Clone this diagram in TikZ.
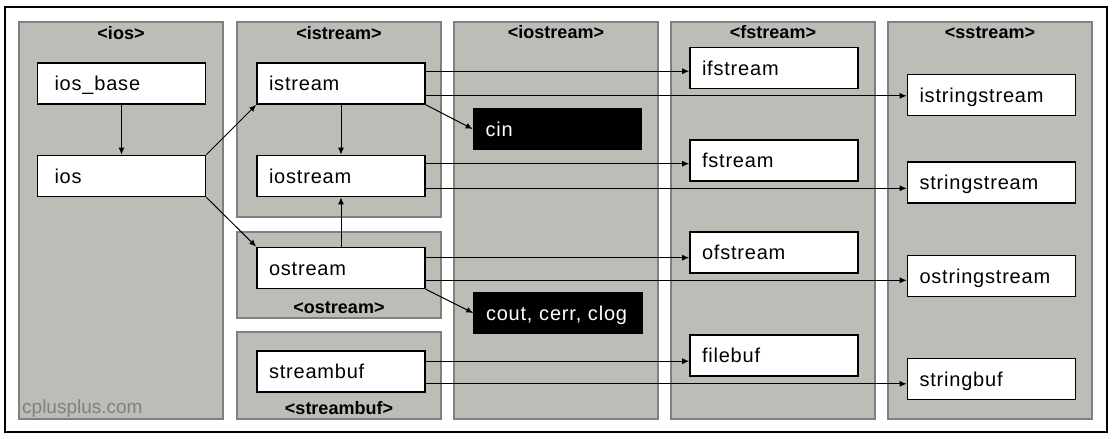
\documentclass[tikz,border=0pt]{standalone}
\usepackage{fontspec}
\setmainfont{Liberation Sans}
\newfontfamily\boxfont[LetterSpace=4]{Liberation Sans}
\usetikzlibrary{arrows.meta}
\definecolor{panelgray}{RGB}{187,189,183}
\definecolor{panelline}{RGB}{128,128,128}
\tikzset{
	panel/.style={fill=panelgray, draw=panelline, line width=2.5pt},
	hdr/.style={anchor=base, inner sep=0pt, font=\fontsize{18}{20}\selectfont\bfseries},
	cls/.style={draw, fill=white, line width=1.6pt, minimum height=41pt, text width=144pt,
		inner xsep=12pt, inner ysep=0pt, align=left, text height=15pt, text depth=1pt,
		font=\boxfont\fontsize{20}{24}\selectfont},
	obj/.style={cls, fill=black, text=white},
	arr/.style={-{Latex[length=7pt,width=6pt]}, line width=1pt},
}

\begin{document}
\begin{tikzpicture}[x=1pt, y=-1pt]
			%%%%% FRAME %%%%%
			\useasboundingbox (0,0) rectangle (1114,439);
			\draw[line width=2pt] (5,7) rectangle (1107,432);
			
			%%%%% PANELS %%%%%
			\draw[panel] (19,22) rectangle (223,419);
			\draw[panel] (237,22) rectangle (441,217);
			\draw[panel] (237,232) rectangle (441,318);
			\draw[panel] (237,332) rectangle (441,419);
			\draw[panel] (454,22) rectangle (658,419);
			\draw[panel] (671,22) rectangle (875,419);
			\draw[panel] (888,22) rectangle (1092,419);
			
			\node[hdr] (hios) at (121,39) {<ios>};
			\node[hdr] (histream) at (339,39) {<istream>};
			\node[hdr] (hostream) at (339,313) {<ostream>};
			\node[hdr] (hstreambuf) at (339,414) {<streambuf>};
			\node[hdr] (hiostream) at (556,38) {<iostream>};
			\node[hdr] (hfstream) at (773,38) {<fstream>};
			\node[hdr] (hsstream) at (990,38) {<sstream>};
			
			\node[anchor=base west, inner sep=0pt, text=black!50, font=\fontsize{19}{20}\selectfont] (logo) at (22,413) {cplusplus.com};
			
			%%%%% CLASSES %%%%%
			\node[cls, inner xsep=17pt, text width=134pt] (iosbase) at (121.5,83.5) {ios\_base};
			\node[cls, inner xsep=17pt, text width=134pt] (ios) at (121.5,176) {ios};
			
			\node[cls] (istream) at (341,83.5) {istream};
			\node[cls] (iostream) at (341,176) {iostream};
			\node[cls] (ostream) at (341,268) {ostream};
			\node[cls] (streambuf) at (341,371.5) {streambuf};
			
			\node[obj] (cin) at (557.5,129) {cin};
			\node[obj] (cout) at (558,313) {cout, cerr, clog};
			
			\node[cls] (ifstream) at (774,68) {ifstream};
			\node[cls] (fstream) at (774,160.5) {fstream};
			\node[cls] (ofstream) at (774,252.5) {ofstream};
			\node[cls] (filebuf) at (774,355.5) {filebuf};
			
			\node[cls] (istringstream) at (991.5,95) {istringstream};
			\node[cls] (stringstream) at (991.5,182.5) {stringstream};
			\node[cls] (ostringstream) at (991.5,276) {ostringstream};
			\node[cls] (stringbuf) at (991.5,379) {stringbuf};
			
			%%%%% INHERITANCE %%%%%
			\draw[arr] (iosbase) -- (ios);
			\draw[arr] (ios.north east) -- (istream.south west);
			\draw[arr] (ios.south east) -- (ostream.north west);
			\draw[arr] (istream) -- (iostream);
			\draw[arr] (ostream) -- (iostream);
			\draw[arr] (istream.south east) -- (cin.west);
			\draw[arr] (ostream.south east) -- (cout.west);
			
			\draw[arr] ([yshift=-9pt]istream.north east) coordinate (a1) -- (a1 -| ifstream.west);
			\draw[arr] ([yshift=9pt]istream.south east) coordinate (a2) -- (a2 -| istringstream.west);
			\draw[arr] ([yshift=-9pt]iostream.north east) coordinate (a3) -- (a3 -| fstream.west);
			\draw[arr] ([yshift=9pt]iostream.south east) coordinate (a4) -- (a4 -| stringstream.west);
			\draw[arr] ([yshift=-11pt]ostream.north east) coordinate (a5) -- (a5 -| ofstream.west);
			\draw[arr] ([yshift=9pt]ostream.south east) coordinate (a6) -- (a6 -| ostringstream.west);
			\draw[arr] ([yshift=-11pt]streambuf.north east) coordinate (a7) -- (a7 -| filebuf.west);
			\draw[arr] ([yshift=9pt]streambuf.south east) coordinate (a8) -- (a8 -| stringbuf.west);
			
			%%%%% END %%%%%
\end{tikzpicture}
\end{document}
